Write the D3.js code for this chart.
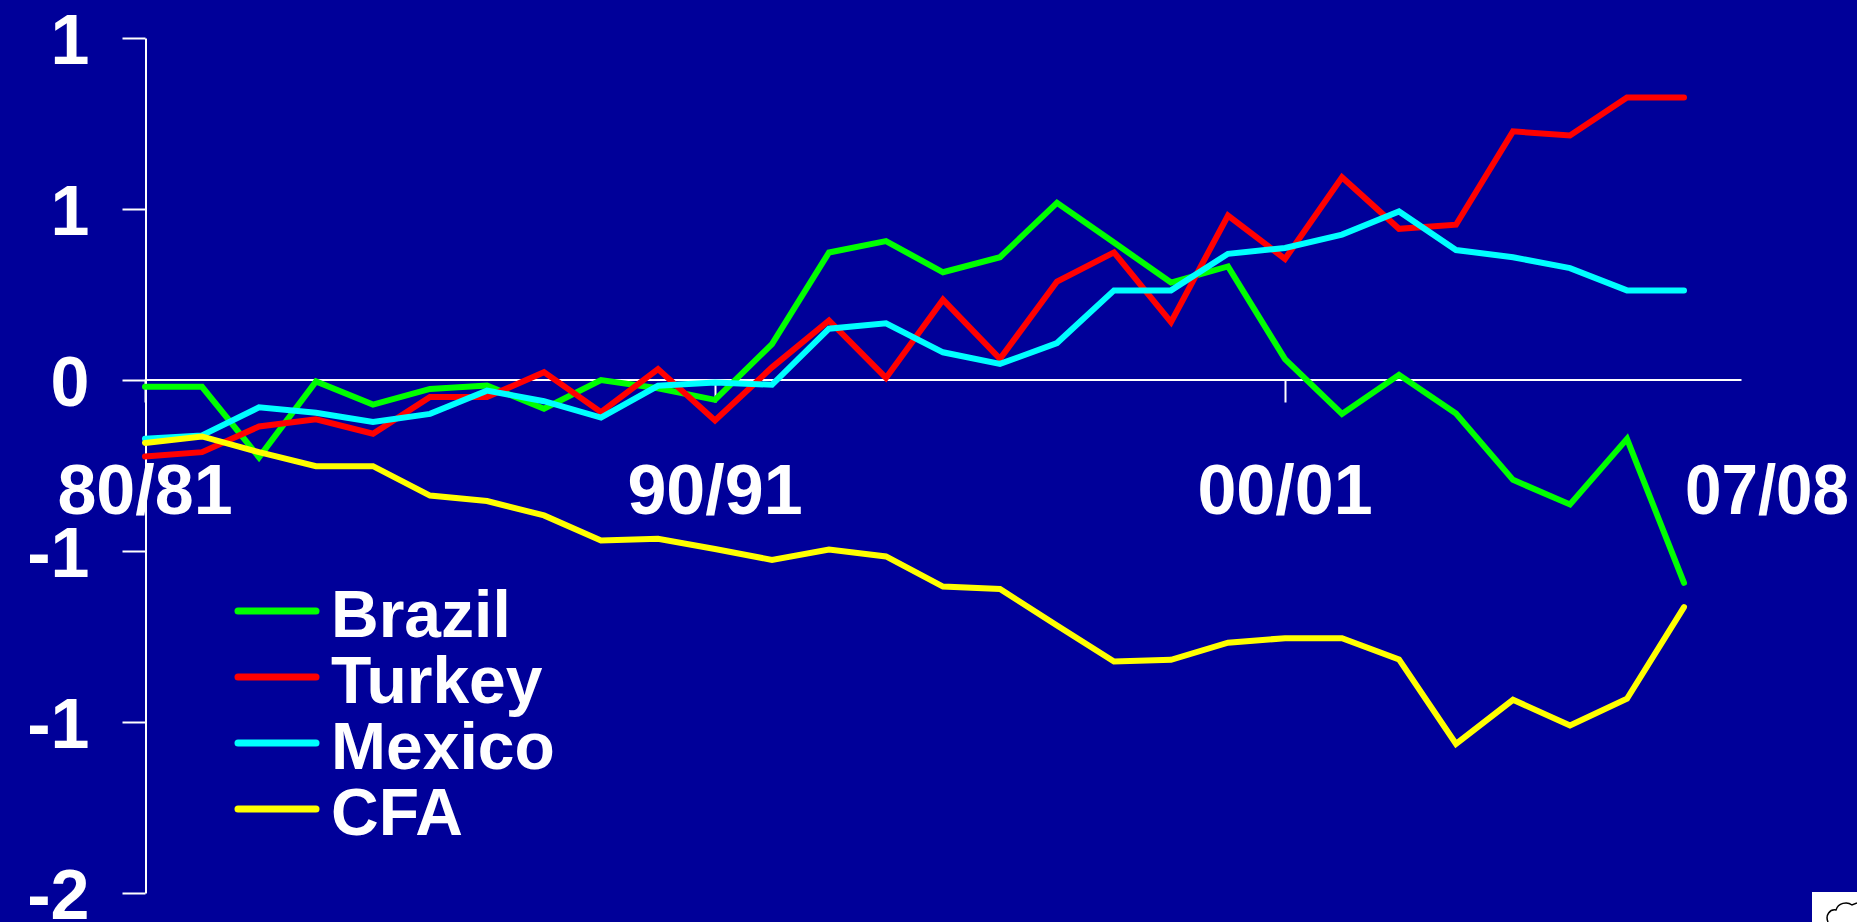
<!DOCTYPE html>
<html>
<head>
<meta charset="utf-8">
<script src="https://cdn.jsdelivr.net/npm/d3@7"></script>
<style>
  html, body { margin: 0; padding: 0; background: #000099; }
  svg { display: block; }
  text { font-family: "Liberation Sans", Arial, sans-serif; font-weight: bold; fill: #ffffff; }
</style>
</head>
<body>
<svg id="chart" width="1857" height="922"></svg>
<script>
// Fiscal years on the x axis
const categories = ["80/81","81/82","82/83","83/84","84/85","85/86","86/87","87/88","88/89","89/90",
                    "90/91","91/92","92/93","93/94","94/95","95/96","96/97","97/98","98/99","99/00",
                    "00/01","01/02","02/03","03/04","04/05","05/06","06/07","07/08"];

// Series values
const brazil = [-0.02,-0.02,-0.226,-0.004,-0.072,-0.026,-0.016,-0.084,0.0,-0.024,
                -0.058,0.105,0.373,0.406,0.315,0.359,0.518,0.402,0.285,0.332,
                0.061,-0.099,0.015,-0.098,-0.292,-0.364,-0.172,-0.593];
const turkey = [-0.224,-0.211,-0.136,-0.115,-0.157,-0.05,-0.05,0.023,-0.094,0.032,
                -0.118,0.037,0.174,0.006,0.235,0.062,0.288,0.373,0.169,0.481,
                0.354,0.593,0.442,0.454,0.727,0.715,0.826,0.826];
const mexico = [-0.172,-0.162,-0.08,-0.096,-0.123,-0.099,-0.031,-0.062,-0.11,-0.017,
                -0.007,-0.014,0.15,0.166,0.081,0.047,0.108,0.262,0.262,0.369,
                0.386,0.425,0.493,0.38,0.359,0.327,0.262,0.262];
const cfa = [-0.184,-0.165,-0.211,-0.252,-0.252,-0.338,-0.354,-0.396,-0.469,-0.464,
             -0.494,-0.526,-0.496,-0.516,-0.604,-0.611,-0.718,-0.823,-0.818,-0.768,
             -0.755,-0.755,-0.817,-1.064,-0.935,-1.01,-0.932,-0.664];

const seriesNames = ["Brazil", "Turkey", "Mexico", "CFA"];
const seriesColors = ["#00ff00", "#ff0000", "#00ffff", "#ffff00"];

// Axis ticks and their labels
const yTickValues = [1, 0.5, 0, -0.5, -1, -1.5];
const yTickLabels = ["1", "1", "0", "-1", "-1", "-2"];
const xTickCategories = ["80/81", "90/91", "00/01"];
const xLabelCategories = ["80/81", "90/91", "00/01", "07/08"];

const series = [brazil, turkey, mexico, cfa].map((values, i) => ({
  name: seriesNames[i], color: seriesColors[i], values
}));

const svg = d3.select("#chart");
svg.append("rect").attr("width", 1857).attr("height", 922).attr("fill", "#000099");

// Index scale: the axis runs one slot past the last year
const x = d3.scaleLinear().domain([0, categories.length]).range([145, 1741]);
const y = d3.scaleLinear().domain([-1.5, 1]).range([893, 38]);
const xi = c => x(categories.indexOf(c));

// Y axis
const yAxis = svg.append("g")
  .attr("transform", "translate(145.5,0)")
  .call(d3.axisLeft(y).tickValues(yTickValues).tickSize(23).tickSizeOuter(0).tickPadding(33)
        .tickFormat((d, i) => yTickLabels[i]));
yAxis.selectAll("path, line").attr("stroke", "#ffffff").attr("stroke-width", 2);
yAxis.selectAll("text").attr("fill", "#ffffff").attr("font-size", 70).attr("dy", "0.36em")
  .style("font-family", '"Liberation Sans", Arial, sans-serif').style("font-weight", "bold");

// X axis on the zero line
const xAxis = svg.append("g")
  .attr("transform", `translate(0,${Math.round(y(0)) - 0.5})`)
  .call(d3.axisBottom(x).tickValues(xTickCategories.map(c => categories.indexOf(c)))
        .tickSize(23).tickSizeOuter(0).tickFormat(""));
xAxis.selectAll("path, line").attr("stroke", "#ffffff").attr("stroke-width", 2);

// Year labels under the zero line; the last one starts at its year and is kept inside the frame
const lastLabel = xLabelCategories.length - 1;
const yearLabels = svg.append("g").selectAll("text")
  .data(xLabelCategories)
  .join("text")
  .attr("x", (c, i) => i === lastLabel ? xi(c) + 1 : xi(c))
  .attr("y", y(0) + 134)
  .attr("text-anchor", (c, i) => i === lastLabel ? "start" : "middle")
  .attr("font-size", 70)
  .text(c => c);
yearLabels.filter((c, i) => i === lastLabel)
  .attr("textLength", 164)
  .attr("lengthAdjust", "spacingAndGlyphs");

// Series lines
const line = d3.line().x((d, i) => x(i)).y(d => y(d));
svg.append("g").selectAll("path")
  .data(series)
  .join("path")
  .attr("d", s => line(s.values))
  .attr("fill", "none")
  .attr("stroke", s => s.color)
  .attr("stroke-width", 6)
  .attr("stroke-linejoin", "miter")
  .attr("stroke-linecap", "round");

// Legend
const legend = svg.append("g").attr("transform", "translate(238,611)");
const item = legend.selectAll("g").data(series).join("g")
  .attr("transform", (s, i) => `translate(0,${i * 66})`);
item.append("line")
  .attr("x1", 0).attr("x2", 78).attr("y1", 0).attr("y2", 0)
  .attr("stroke", s => s.color).attr("stroke-width", 7).attr("stroke-linecap", "round");
item.append("text")
  .attr("x", 93).attr("y", 26)
  .attr("font-size", 66)
  .text(s => s.name);

// Small clip-art corner in the bottom right
const corner = svg.append("g");
corner.append("rect").attr("x", 1812).attr("y", 892).attr("width", 45).attr("height", 30).attr("fill", "#ffffff");
corner.append("path")
  .attr("d", "M1828,922 C1825,915 1830,909 1836,910 C1838,903 1847,901 1852,905 L1857,903")
  .attr("fill", "none").attr("stroke", "#000000").attr("stroke-width", 1.5);
</script>
</body>
</html>
